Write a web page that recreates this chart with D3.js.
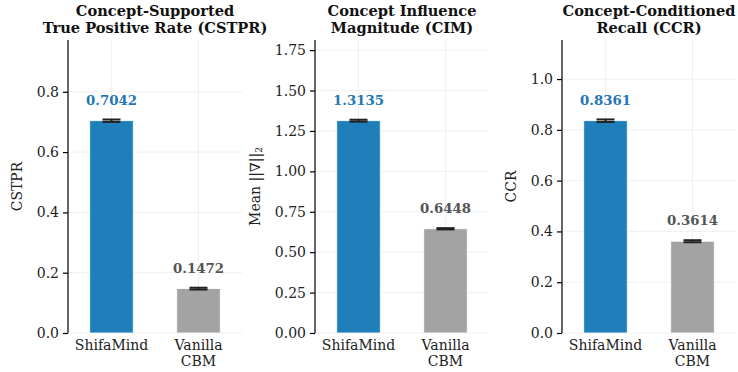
<!DOCTYPE html>
<head>
  <meta charset="utf-8">
  <style>
    body { margin: 0; background: #fff; }
    svg text { font-family: "DejaVu Serif", serif; }
    .grid line { stroke: #ebebeb; stroke-width: 0.8; }
    .axis text { font-size: 14px; fill: #222; }
    .axis path, .axis line { stroke: #000; }
  </style>
  <script src="https://d3js.org/d3.v7.min.js"></script>
</head>
<body>
<div id="chart"></div>
<script>
// data
var methods = ["ShifaMind", "Vanilla CBM"];
var titles = [
  ["Concept-Supported", "True Positive Rate (CSTPR)"],
  ["Concept Influence", "Magnitude (CIM)"],
  ["Concept-Conditioned", "Recall (CCR)"]
];
var yLabels = ["CSTPR", "Mean ||∇||", "CCR"];
var yLabelSubs = ["", "2", ""];
var cstpr = [0.7042, 0.1472];
var cim = [1.3135, 0.6448];
var ccr = [0.8361, 0.3614];
var cstprErr = [0.004, 0.003];
var cimErr = [0.006, 0.004];
var ccrErr = [0.005, 0.004];
var cstprTicks = [0, 0.2, 0.4, 0.6, 0.8];
var cimTicks = [0, 0.25, 0.5, 0.75, 1.0, 1.25, 1.5, 1.75];
var ccrTicks = [0, 0.2, 0.4, 0.6, 0.8, 1.0];

var panels = [
  {values: cstpr, err: cstprErr, ticks: cstprTicks, fmt: ".1f", left: 68, labOff: -46},
  {values: cim, err: cimErr, ticks: cimTicks, fmt: ".2f", left: 315, labOff: -55},
  {values: ccr, err: ccrErr, ticks: ccrTicks, fmt: ".1f", left: 562, labOff: -46}
];

var barColors = ["#1f7fbb", "#a3a3a3"];
var labelColors = ["#1f77b4", "#555555"];

var W = 738, H = 372;
var plotTop = 40, plotBottom = 333, pw = 174;

var svg = d3.select("#chart").append("svg")
    .attr("width", W)
    .attr("height", H);

panels.forEach(function(p, i) {
  var g = svg.append("g").attr("transform", "translate(" + p.left + ",0)");

  // x: categories at 0 and 1, limits -0.5..1.5
  var x = d3.scaleLinear().domain([-0.5, 1.5]).range([0, pw]);
  var y = d3.scaleLinear()
      .domain([0, d3.max(p.values) * 1.38])
      .range([plotBottom, plotTop]);

  // grid
  var grid = g.append("g").attr("class", "grid");
  grid.selectAll(".hg").data(p.ticks).enter().append("line")
    .attr("x1", 0).attr("x2", pw)
    .attr("y1", function(d) { return y(d); })
    .attr("y2", function(d) { return y(d); });
  grid.selectAll(".vg").data([0, 1]).enter().append("line")
    .attr("x1", function(d) { return x(d); })
    .attr("x2", function(d) { return x(d); })
    .attr("y1", plotTop).attr("y2", plotBottom);

  // bars
  g.selectAll(".bar").data(p.values).enter().append("rect")
    .attr("x", function(d, j) { return x(j - 0.25); })
    .attr("width", x(0.25) - x(-0.25))
    .attr("y", function(d) { return y(d); })
    .attr("height", function(d) { return plotBottom - y(d); })
    .attr("fill", function(d, j) { return barColors[j]; })
    .attr("stroke", "#fff")
    .attr("stroke-width", 0.8);

  // error bars
  p.values.forEach(function(v, j) {
    var e = p.err[j], cx = x(j), cap = 9;
    var eg = g.append("g").attr("stroke", "#222").attr("stroke-width", 2);
    eg.append("line").attr("x1", cx).attr("x2", cx)
      .attr("y1", y(v - e)).attr("y2", y(v + e));
    [v - e, v + e].forEach(function(t) {
      eg.append("line").attr("x1", cx - cap).attr("x2", cx + cap)
        .attr("y1", y(t)).attr("y2", y(t));
    });
  });

  // value labels
  g.selectAll(".val").data(p.values).enter().append("text")
    .attr("x", function(d, j) { return x(j); })
    .attr("y", function(d) { return y(d) - 16; })
    .attr("text-anchor", "middle")
    .attr("font-size", "13.3px")
    .attr("font-weight", "bold")
    .attr("fill", function(d, j) { return labelColors[j]; })
    .text(function(d) { return d3.format(".4f")(d); });

  // y axis
  var ya = g.append("g").attr("class", "axis")
    .call(d3.axisLeft(y).tickValues(p.ticks).tickFormat(d3.format(p.fmt)).tickSize(5).tickPadding(4));
  ya.select(".domain").attr("d", "M0," + plotTop + "V" + plotBottom).attr("stroke-width", 1.2);
  ya.selectAll(".tick line").attr("stroke-width", 1.2);

  // x labels
  methods.forEach(function(m, j) {
    var t = g.append("text")
      .attr("x", x(j))
      .attr("y", 350)
      .attr("text-anchor", "middle")
      .attr("font-size", "14px")
      .attr("fill", "#222");
    m.split(" ").forEach(function(w, k) {
      t.append("tspan").attr("x", x(j)).attr("dy", k === 0 ? 0 : 16).text(w);
    });
  });

  // y label
  var yl = g.append("text")
    .attr("transform", "translate(" + p.labOff + "," + ((plotTop + plotBottom) / 2) + ") rotate(-90)")
    .attr("text-anchor", "middle")
    .attr("font-size", "14px")
    .attr("fill", "#222")
    .text(yLabels[i]);
  if (yLabelSubs[i]) {
    yl.append("tspan").attr("font-size", "9px").attr("dy", 2).text(yLabelSubs[i]);
  }

  // title
  var tt = g.append("text")
    .attr("x", pw / 2)
    .attr("y", 15.5)
    .attr("text-anchor", "middle")
    .attr("font-size", "14.6px")
    .attr("font-weight", "bold")
    .attr("fill", "#111");
  titles[i].forEach(function(line, k) {
    tt.append("tspan").attr("x", pw / 2).attr("dy", k === 0 ? 0 : 17).text(line);
  });
});
</script>
</body>
</html>
